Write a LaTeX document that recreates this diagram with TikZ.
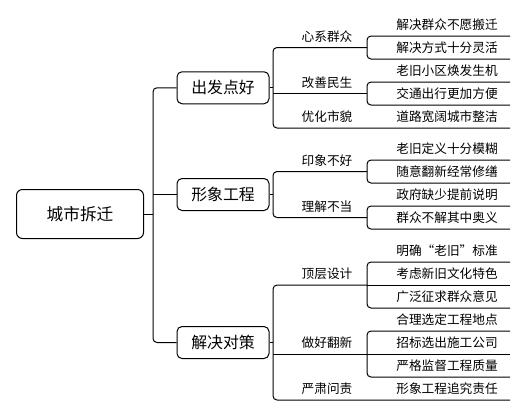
\documentclass[tikz,border=0pt]{standalone}
\usepackage{fontspec}
\setmainfont{Noto Sans CJK SC}
\tikzset{every picture/.style={line width=0.75pt}}
\tikzset{
  rootbox/.style={draw, rounded corners=4.5pt, inner sep=0pt, minimum width=95.25pt, minimum height=36.75pt, font=\fontsize{12.5}{14}\selectfont},
  topicbox/.style={draw, rounded corners=3.75pt, inner sep=0pt, minimum width=69pt, minimum height=24pt, font=\fontsize{11.9}{14}\selectfont},
  subtopic/.style={anchor=south, inner sep=0pt, minimum height=15.75pt, font=\fontsize{9.5}{11}\selectfont},
  leaf/.style={anchor=south, inner sep=0pt, minimum height=15.75pt, font=\fontsize{9.5}{11}\selectfont},
  branch/.style={rounded corners=3pt}
}

\begin{document}
\begin{tikzpicture}[x=0.75pt,y=0.75pt,yscale=-1,xscale=1]
\useasboundingbox (0,0) rectangle (527,415);

% bracket columns and right end of the lines
\coordinate (b0) at (153,0);
\coordinate (b1) at (273,0);
\coordinate (b2) at (367,0);
\coordinate (edge) at (510,0);

% Root
\node [rootbox] (city) at (80,214) {城市拆迁};

% Main topics
\node [topicbox] (start) at (223,87.75) {出发点好};
\node [topicbox] (image) at (223,194.5) {形象工程};
\node [topicbox] (measure) at (223,342.5) {解决对策};

% Subtopics
\node [subtopic] (heart) at (327,47.5) {心系群众};
\node [subtopic] (life) at (327,93.5) {改善民生};
\node [subtopic] (look) at (327,128) {优化市貌};
\node [subtopic] (bad) at (327,171.5) {印象不好};
\node [subtopic] (wrong) at (327,217.5) {理解不当};
\node [subtopic] (design) at (327,285) {顶层设计};
\node [subtopic] (renew) at (327,354) {做好翻新};
\node [subtopic] (blame) at (327,400) {严肃问责};

% Leaves
\node [leaf] (h1) at (447,36) {解决群众不愿搬迁};
\node [leaf] (h2) at (447,59) {解决方式十分灵活};
\node [leaf] (l1) at (447,82) {老旧小区焕发生机};
\node [leaf] (l2) at (447,105) {交通出行更加方便};
\node [leaf] (k1) at (447,128) {道路宽阔城市整洁};
\node [leaf] (i1) at (447,160) {老旧定义十分模糊};
\node [leaf] (i2) at (447,183) {随意翻新经常修缮};
\node [leaf] (w1) at (447,206) {政府缺少提前说明};
\node [leaf] (w2) at (447,229) {群众不解其中奥义};
\node [leaf] (d1) at (447,262) {明确“老旧”标准};
\node [leaf] (d2) at (447,285) {考虑新旧文化特色};
\node [leaf] (d3) at (447,308) {广泛征求群众意见};
\node [leaf] (n1) at (447,331) {合理选定工程地点};
\node [leaf] (n2) at (447,354) {招标选出施工公司};
\node [leaf] (n3) at (447,377) {严格监督工程质量};
\node [leaf] (m1) at (447,400) {形象工程追究责任};

% Root to main topics
\draw (city.east) -- (city.east -| b0);
\draw [branch] (start.west) -- (start.west -| b0) -- (measure.west -| b0) -- (measure.west);
\draw (image.west) -- (image.west -| b0);

% Main topics to subtopics
\draw (start.east) -- (start.east -| b1);
\draw [branch] (heart.south -| b2) -- (heart.south -| b1) -- (look.south -| b1) -- (look.south -| edge);
\draw (life.south -| b1) -- (life.south -| b2);

\draw (image.east) -- (image.east -| b1);
\draw [branch] (bad.south -| b2) -- (bad.south -| b1) -- (wrong.south -| b1) -- (wrong.south -| b2);

\draw (measure.east) -- (measure.east -| b1);
\draw [branch] (design.south -| b2) -- (design.south -| b1) -- (blame.south -| b1) -- (blame.south -| edge);
\draw (renew.south -| b1) -- (renew.south -| b2);

% Subtopics to leaves
\draw [branch] (h1.south -| edge) -- (h1.south -| b2) -- (h2.south -| b2) -- (h2.south -| edge);
\draw [branch] (l1.south -| edge) -- (l1.south -| b2) -- (l2.south -| b2) -- (l2.south -| edge);
\draw [branch] (i1.south -| edge) -- (i1.south -| b2) -- (i2.south -| b2) -- (i2.south -| edge);
\draw [branch] (w1.south -| edge) -- (w1.south -| b2) -- (w2.south -| b2) -- (w2.south -| edge);
\draw [branch] (d1.south -| edge) -- (d1.south -| b2) -- (d3.south -| b2) -- (d3.south -| edge);
\draw (d2.south -| b2) -- (d2.south -| edge);
\draw [branch] (n1.south -| edge) -- (n1.south -| b2) -- (n3.south -| b2) -- (n3.south -| edge);
\draw (n2.south -| b2) -- (n2.south -| edge);

\end{tikzpicture}
\end{document}
